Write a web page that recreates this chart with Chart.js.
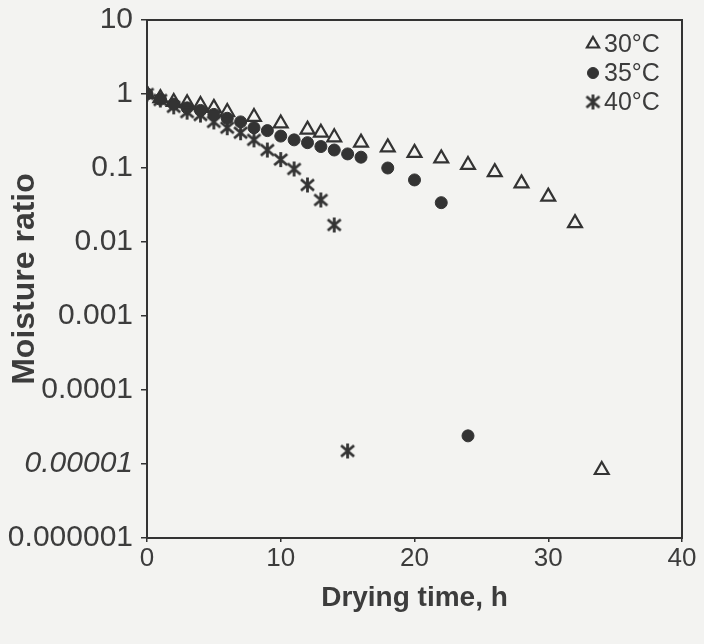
<!DOCTYPE html>
<html>
<head>
<meta charset="utf-8">
<title>Moisture ratio vs drying time</title>
<script src="https://cdn.jsdelivr.net/npm/chart.js@4.4.1/dist/chart.umd.min.js"></script>
<style>
  html, body { margin: 0; padding: 0; background: #f3f3f1; }
  #wrap { width: 704px; height: 644px; }
</style>
</head>
<body>
<div id="wrap"><canvas id="dryingChart" width="704" height="644"></canvas></div>
<script>
// ---- DATA ----
const seriesLabels = ['30°C', '35°C', '40°C'];

const time30 = [0, 1, 2, 3, 4, 5, 6, 8, 10, 12, 13, 14, 16, 18, 20, 22, 24, 26, 28, 30, 32, 34];
const mr30 = [1.0, 0.88, 0.78, 0.75, 0.71, 0.65, 0.57, 0.49, 0.40, 0.33, 0.30, 0.26, 0.22, 0.19, 0.16, 0.135, 0.11, 0.088, 0.062, 0.041, 0.018, 0.0000083];

const time35 = [0, 1, 2, 3, 4, 5, 6, 7, 8, 9, 10, 11, 12, 13, 14, 15, 16, 18, 20, 22, 24];
const mr35 = [1.0, 0.85, 0.73, 0.65, 0.60, 0.53, 0.47, 0.42, 0.35, 0.32, 0.27, 0.24, 0.22, 0.195, 0.175, 0.155, 0.14, 0.10, 0.069, 0.034, 0.000024];

const time40 = [0, 1, 2, 3, 4, 5, 6, 7, 8, 9, 10, 11, 12, 13, 14, 15];
const mr40 = [1.0, 0.83, 0.67, 0.57, 0.52, 0.42, 0.35, 0.30, 0.24, 0.175, 0.13, 0.097, 0.059, 0.037, 0.017, 0.000015];

const yTickValues = [10, 1, 0.1, 0.01, 0.001, 0.0001, 0.00001, 0.000001];
const yTickLabels = ['10', '1', '0.1', '0.01', '0.001', '0.0001', '0.00001', '0.000001'];
const xTickValues = [0, 10, 20, 30, 40];

const ink = '#333333';
const textInk = '#3c3c3c';
const fontFamily = '"Liberation Sans", Arial, sans-serif';

// ---- ASTERISK MARKER (Excel style star) ----
function makeStar(size) {
  const c = document.createElement('canvas');
  c.width = size; c.height = size;
  const g = c.getContext('2d');
  const m = size / 2;
  g.strokeStyle = ink;
  g.lineWidth = 2.8;
  g.lineCap = 'butt';
  g.beginPath();
  g.moveTo(m, 1); g.lineTo(m, size - 1);
  g.moveTo(2, 3); g.lineTo(size - 2, size - 3);
  g.moveTo(2, size - 3); g.lineTo(size - 2, 3);
  g.stroke();
  return c;
}
const starMarker = makeStar(17);

function toPoints(xs, ys) {
  return xs.map((x, i) => ({ x: x, y: ys[i] }));
}

// ---- PLUGINS ----
// frame around the plot area
const frame = {
  id: 'frame',
  afterDraw(chart) {
    const a = chart.chartArea;
    const ctx = chart.ctx;
    ctx.save();
    ctx.strokeStyle = ink;
    ctx.lineWidth = 2;
    ctx.strokeRect(a.left, a.top, a.right - a.left, a.bottom - a.top);
    ctx.restore();
  }
};

// legend drawn inside the top right corner
const innerLegend = {
  id: 'innerLegend',
  afterDraw(chart) {
    const ctx = chart.ctx;
    const a = chart.chartArea;
    const mx = a.right - 89;
    ctx.save();
    ctx.font = '25px ' + fontFamily;
    ctx.textBaseline = 'middle';
    ctx.fillStyle = textInk;
    chart.data.datasets.forEach((ds, i) => {
      const y = a.top + 24 + i * 29;
      ctx.save();
      ctx.strokeStyle = ds.borderColor;
      ctx.fillStyle = ds.backgroundColor;
      ctx.lineWidth = ds.borderWidth;
      Chart.helpers.drawPoint(ctx, {
        pointStyle: ds.pointStyle,
        radius: ds.legendRadius,
        borderWidth: ds.borderWidth,
        rotation: 0
      }, mx, y);
      ctx.restore();
      ctx.fillText(ds.label, mx + 11, y + 1);
    });
    ctx.restore();
  }
};

// ---- CHART ----
new Chart(document.getElementById('dryingChart'), {
  type: 'scatter',
  data: {
    datasets: [
      {
        label: seriesLabels[0],
        data: toPoints(time30, mr30),
        pointStyle: 'triangle',
        pointRadius: 8,
        legendRadius: 7,
        borderWidth: 2.2,
        borderColor: ink,
        backgroundColor: 'rgba(0,0,0,0)'
      },
      {
        label: seriesLabels[1],
        data: toPoints(time35, mr35),
        pointStyle: 'circle',
        pointRadius: 6,
        legendRadius: 5.5,
        borderWidth: 1,
        borderColor: ink,
        backgroundColor: ink
      },
      {
        label: seriesLabels[2],
        data: toPoints(time40, mr40),
        pointStyle: starMarker,
        pointRadius: 8,
        legendRadius: 8,
        borderWidth: 0,
        borderColor: ink,
        backgroundColor: ink
      }
    ]
  },
  options: {
    responsive: false,
    animation: false,
    layout: { padding: { left: 0, right: 22, top: 20, bottom: 0 } },
    plugins: {
      legend: { display: false },
      tooltip: { enabled: false }
    },
    scales: {
      x: {
        type: 'linear',
        min: 0,
        max: 40,
        afterBuildTicks: (axis) => { axis.ticks = xTickValues.map(v => ({ value: v })); },
        afterFit: (scale) => {
          scale.height = 106;
          scale.paddingLeft = 0;
          scale.paddingRight = 0;
        },
        grid: { drawOnChartArea: false, drawTicks: true, tickLength: 4, color: ink, lineWidth: 1.5 },
        border: { display: true, color: ink, width: 2 },
        ticks: {
          color: textInk,
          padding: 1,
          font: { family: fontFamily, size: 26 }
        },
        title: {
          display: true,
          text: 'Drying time, h',
          color: textInk,
          font: { family: fontFamily, size: 28, weight: 'bold' },
          padding: { top: 0, bottom: 29 }
        }
      },
      y: {
        type: 'logarithmic',
        min: 0.000001,
        max: 10,
        afterBuildTicks: (axis) => { axis.ticks = yTickValues.map(v => ({ value: v })); },
        afterFit: (scale) => {
          scale.width = 147;
          scale.paddingTop = 0;
          scale.paddingBottom = 0;
        },
        grid: { drawOnChartArea: false, drawTicks: true, tickLength: 6, color: ink, lineWidth: 1.5 },
        border: { display: true, color: ink, width: 2 },
        ticks: {
          color: textInk,
          padding: 8,
          // the 0.00001 label is slanted in the original
          font: (ctx) => ({
            family: fontFamily,
            size: 30,
            style: ctx.tick && Math.abs(ctx.tick.value - 0.00001) < 1e-9 ? 'italic' : 'normal'
          }),
          callback: (value) => {
            const i = yTickValues.findIndex(v => Math.abs(Math.log10(v) - Math.log10(value)) < 1e-6);
            return i >= 0 ? yTickLabels[i] : '';
          }
        },
        title: {
          display: true,
          text: 'Moisture ratio',
          color: textInk,
          font: { family: fontFamily, size: 32, weight: 'bold' },
          padding: { top: 6, bottom: 0 }
        }
      }
    }
  },
  plugins: [frame, innerLegend]
});
</script>
</body>
</html>
